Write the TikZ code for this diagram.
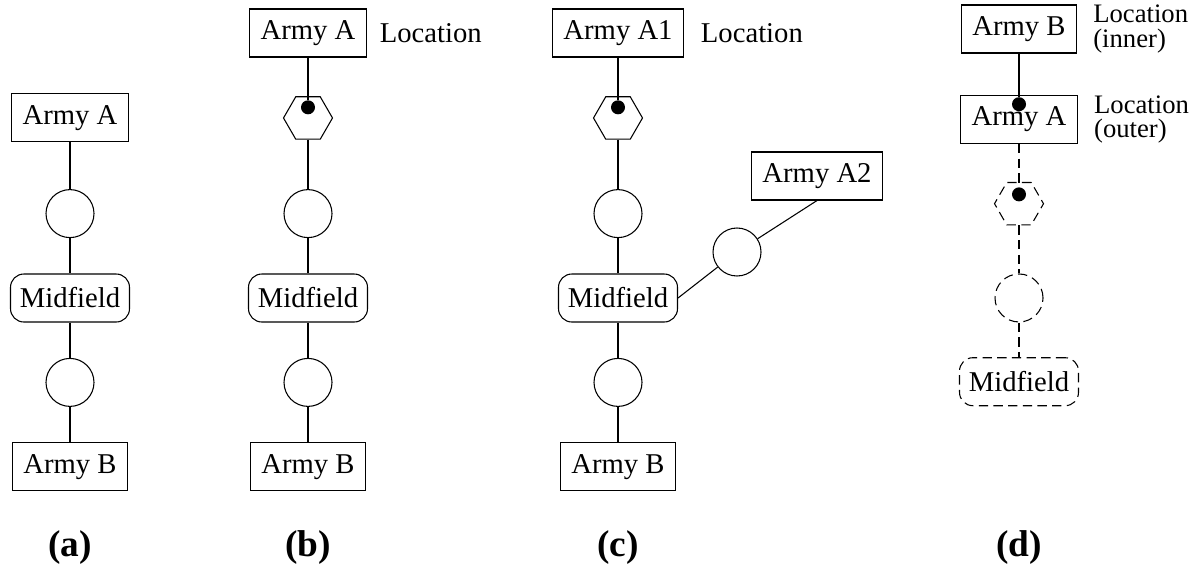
\documentclass[tikz,border=0pt]{standalone}
\usepackage{fontspec}
\setmainfont{Liberation Serif}
\usetikzlibrary{shapes.geometric, positioning}

\begin{document}
\begin{tikzpicture}[x=0.75pt, y=-0.75pt, node distance=26.5pt, line width=0.8pt, font=\fontsize{21.5}{23}\selectfont]

        % Define styles
        \tikzstyle{army} = [rectangle, draw, minimum height=36pt, inner xsep=8.5pt]
        \tikzstyle{field} = [rectangle, draw, rounded corners=10pt, minimum height=36pt, inner xsep=7pt]
        \tikzstyle{ring} = [circle, draw, minimum size=36pt, inner sep=0pt]
        \tikzstyle{hexa} = [regular polygon, regular polygon sides=6, draw, minimum size=36.75pt, inner sep=0pt]
        \tikzstyle{blob} = [circle, fill, minimum size=10.5pt, inner sep=0pt]
        \tikzstyle{loc} = [align=left, inner sep=0pt]
        \tikzstyle{loc2} = [loc, font=\fontsize{20}{18.5}\selectfont]
        \tikzstyle{caption} = [font=\bfseries\fontsize{28}{30}\selectfont]
        \tikzstyle{ghost} = [dash pattern=on 7pt off 4pt]
        \tikzstyle{line} = [draw]

        \useasboundingbox (0,0) rectangle (1201,579);

        % (a) two armies, one field
        \node [field] (fielda) at (70,298) {Midfield};
        \node [ring, above=of fielda] (ringa1) {};
        \node [army, above=35pt of ringa1] (armyAa) {Army A};
        \node [ring, below=of fielda] (ringa2) {};
        \node [army, below=of ringa2] (armyBa) {Army B};

        % (b) army A with a location
        \node [field] (fieldb) at (308,298) {Midfield};
        \node [ring, above=of fieldb] (ringb1) {};
        \node [hexa, above=37pt of ringb1] (hexb) {};
        \node [army, above=29pt of hexb] (armyAb) {Army A};
        \node [loc, right=9pt of armyAb] (locb) {Location};
        \node [ring, below=of fieldb] (ringb2) {};
        \node [army, below=of ringb2] (armyBb) {Army B};
        \node [blob] (dotb) at ([yshift=8pt]hexb.center) {};

        % (c) army A split in two
        \node [field] (fieldc) at (618,298) {Midfield};
        \node [ring, above=of fieldc] (ringc1) {};
        \node [hexa, above=37pt of ringc1] (hexc) {};
        \node [army, above=29pt of hexc] (armyA1c) {Army A1};
        \node [loc, right=12pt of armyA1c] (locc) {Location};
        \node [ring, below=of fieldc] (ringc2) {};
        \node [army, below=of ringc2] (armyBc) {Army B};
        \node [blob] (dotc) at ([yshift=8pt]hexc.center) {};
        \node [army] (armyA2c) at (817,176) {Army A2};
        \node [ring] (ringc3) at (737,252) {};

        % (d) army B inside army A
        \node [army] (armyBd) at (1019,29) {Army B};
        \node [loc2, right=11.5pt of armyBd] (locd1) {Location\\(inner)};
        \node [army, below=31pt of armyBd] (armyAd) {Army A};
        \node [loc2, right=11.5pt of armyAd] (locd2) {Location\\(outer)};
        \node [hexa, ghost, below=28.5pt of armyAd] (hexd) {};
        \node [ring, ghost, below=36pt of hexd] (ringd) {};
        \node [field, ghost, below=26pt of ringd] (fieldd) {Midfield};
        \node [blob] (dotd1) at ([yshift=-7pt]armyAd.north) {};
        \node [blob] (dotd2) at ([yshift=7pt]hexd.center) {};

        % Captions
        \node [caption] (capa) at (70,548) {(a)};
        \node [caption] (capb) at (308,548) {(b)};
        \node [caption] (capc) at (618,548) {(c)};
        \node [caption] (capd) at (1019,548) {(d)};

        % Draw edges
        \path [line] (armyAa) -- (ringa1);
        \path [line] (ringa1) -- (fielda);
        \path [line] (fielda) -- (ringa2);
        \path [line] (ringa2) -- (armyBa);

        \path [line] (armyAb) -- (dotb);
        \path [line] (hexb) -- (ringb1);
        \path [line] (ringb1) -- (fieldb);
        \path [line] (fieldb) -- (ringb2);
        \path [line] (ringb2) -- (armyBb);

        \path [line] (armyA1c) -- (dotc);
        \path [line] (hexc) -- (ringc1);
        \path [line] (ringc1) -- (fieldc);
        \path [line] (fieldc) -- (ringc2);
        \path [line] (ringc2) -- (armyBc);
        \path [line] (fieldc.east) -- (ringc3);
        \path [line] (ringc3) -- (armyA2c.south);

        \path [line] (armyBd) -- (dotd1);
        \path [line, ghost] (armyAd) -- (dotd2);
        \path [line, ghost] (hexd) -- (ringd);
        \path [line, ghost] (ringd) -- (fieldd);

    \end{tikzpicture}
\end{document}
